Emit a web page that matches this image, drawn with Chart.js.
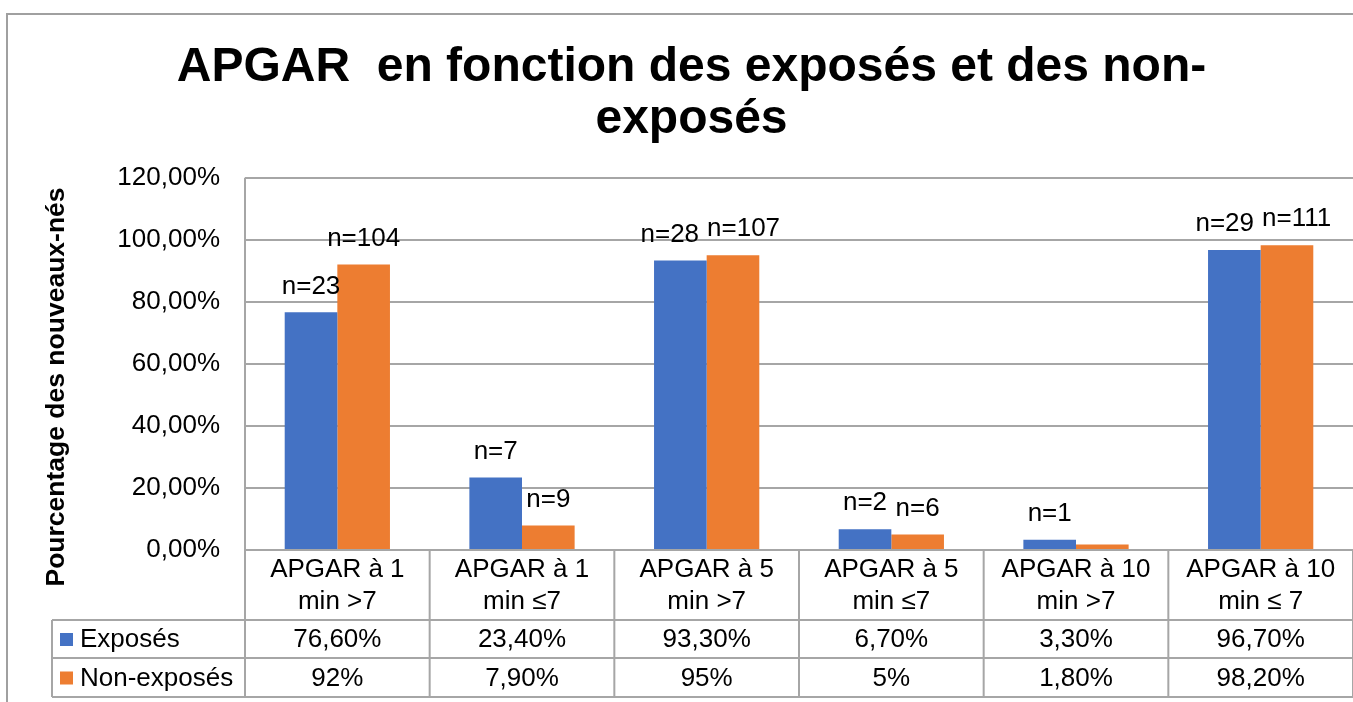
<!DOCTYPE html>
<html>
<head>
<meta charset="utf-8">
<script src="https://cdn.jsdelivr.net/npm/chart.js@4.4.1/dist/chart.umd.min.js"></script>
<style>
  html, body { margin: 0; padding: 0; background: #fff; overflow: hidden; }
  canvas { display: block; }
</style>
</head>
<body>
<canvas id="apgarChart" width="1353" height="702"></canvas>
<script>
// Data
const categories = [
  ['APGAR à 1', 'min >7'], ['APGAR à 1', 'min ≤7'], ['APGAR à 5', 'min >7'],
  ['APGAR à 5', 'min ≤7'], ['APGAR à 10', 'min >7'], ['APGAR à 10', 'min ≤ 7']
];
const seriesNames = ['Exposés', 'Non-exposés'];
const exposes = [76.6, 23.4, 93.3, 6.7, 3.3, 96.7];
const nonExposes = [92, 7.9, 95, 5, 1.8, 98.2];
const nExposes = [23, 7, 28, 2, 1, 29];
const nNonExposes = [104, 9, 107, 6, null, 111];
const titleLines = ['APGAR  en fonction des exposés et des non-', 'exposés'];
const yTitle = 'Pourcentage des nouveaux-nés';

const FONT = '"Liberation Sans", Arial, sans-serif';
const colors = ['#4472C4', '#ED7D31'];
const gridColor = '#a6a6a6';

Chart.defaults.font.family = FONT;

// percent text like excel shows it: 76,60% / 92%
function pct(v) {
  return Number.isInteger(v) ? v + '%' : v.toFixed(2).replace('.', ',') + '%';
}

// draws the frame, y title, n= labels and the data table under the plot
const tablePlugin = {
  id: 'tablePlugin',
  afterDraw(chart) {
    const ctx = chart.ctx;
    const area = chart.chartArea;
    const x = chart.scales.x;
    const catW = (area.right - area.left) / categories.length;
    const rowY = [area.bottom, 620, 658, 697];
    const legendLeft = 52;

    ctx.save();
    ctx.strokeStyle = '#a0a0a0';
    ctx.lineWidth = 2;
    ctx.beginPath();
    ctx.moveTo(7, 702); ctx.lineTo(7, 14); ctx.lineTo(1353, 14);
    ctx.stroke();

    // y axis title
    ctx.save();
    ctx.translate(57, 387);
    ctx.rotate(-Math.PI / 2);
    ctx.font = 'bold 26.5px ' + FONT;
    ctx.fillStyle = '#000';
    ctx.textAlign = 'center';
    ctx.textBaseline = 'middle';
    ctx.fillText(yTitle, 0, 0);
    ctx.restore();

    // n= labels above bars, pushed apart when the pair would collide
    ctx.font = '26px ' + FONT;
    ctx.fillStyle = '#000';
    ctx.textAlign = 'center';
    ctx.textBaseline = 'middle';
    const m0 = chart.getDatasetMeta(0).data, m1 = chart.getDatasetMeta(1).data;
    categories.forEach((c, i) => {
      const labs = [];
      if (nExposes[i] != null) labs.push({ t: 'n=' + nExposes[i], x: m0[i].x, y: m0[i].y - 26 });
      if (nNonExposes[i] != null) labs.push({ t: 'n=' + nNonExposes[i], x: m1[i].x, y: m1[i].y - 26 });
      if (labs.length === 2 && Math.abs(labs[0].y - labs[1].y) < 28) {
        const w0 = ctx.measureText(labs[0].t).width, w1 = ctx.measureText(labs[1].t).width;
        const over = (labs[0].x + w0 / 2 + 8) - (labs[1].x - w1 / 2);
        if (over > 0) { labs[0].x -= over / 2; labs[1].x += over / 2; }
      }
      labs.forEach(l => ctx.fillText(l.t, l.x, l.y));
    });

    // table grid
    ctx.strokeStyle = gridColor;
    ctx.lineWidth = 2;
    ctx.beginPath();
    for (let r = 1; r < rowY.length; r++) {
      ctx.moveTo(legendLeft, rowY[r]); ctx.lineTo(area.right, rowY[r]);
    }
    for (let i = 0; i <= categories.length; i++) {
      const bx = area.left + i * catW;
      ctx.moveTo(bx, i === 0 ? area.top : area.bottom); ctx.lineTo(bx, rowY[3]);
    }
    ctx.moveTo(legendLeft, rowY[1]); ctx.lineTo(legendLeft, rowY[3]);
    ctx.stroke();

    // category labels
    ctx.fillStyle = '#000';
    ctx.font = '26px ' + FONT;
    categories.forEach((lines, i) => {
      const cx = x.getPixelForValue(i);
      ctx.fillText(lines[0], cx, 570);
      ctx.fillText(lines[1], cx, 602);
    });

    // value rows with legend keys
    [exposes, nonExposes].forEach((arr, di) => {
      const cy = (rowY[di + 1] + rowY[di + 2]) / 2 + 1;
      ctx.fillStyle = colors[di];
      ctx.fillRect(60, cy - 7, 13, 13);
      ctx.fillStyle = '#000';
      ctx.textAlign = 'left';
      ctx.fillText(seriesNames[di], 80, cy);
      ctx.textAlign = 'center';
      arr.forEach((v, i) => ctx.fillText(pct(v), x.getPixelForValue(i), cy));
    });
    ctx.restore();
  }
};

new Chart(document.getElementById('apgarChart').getContext('2d'), {
  type: 'bar',
  data: {
    labels: categories,
    datasets: [
      { label: seriesNames[0], data: exposes, backgroundColor: colors[0], categoryPercentage: 0.57, barPercentage: 1 },
      { label: seriesNames[1], data: nonExposes, backgroundColor: colors[1], categoryPercentage: 0.57, barPercentage: 1 }
    ]
  },
  options: {
    responsive: false,
    animation: false,
    layout: { padding: { left: 30, right: 0, top: 0, bottom: 0 } },
    plugins: {
      legend: { display: false },
      tooltip: { enabled: false },
      title: {
        display: true,
        text: titleLines,
        color: '#000',
        font: { size: 48, weight: 'bold', lineHeight: 1.08 },
        padding: { top: 42, bottom: 32 }
      }
    },
    scales: {
      x: {
        ticks: { display: false },
        grid: { display: false },
        border: { display: false },
        afterFit(scale) { scale.height = 152; }
      },
      y: {
        min: 0,
        max: 120,
        ticks: {
          stepSize: 20,
          padding: 25,
          color: '#000',
          font: { size: 26 },
          callback: v => v.toFixed(2).replace('.', ',') + '%'
        },
        grid: { color: gridColor, lineWidth: 2, drawTicks: false },
        border: { display: false },
        afterFit(scale) { scale.width = 215; }
      }
    }
  },
  plugins: [tablePlugin]
});
</script>
</body>
</html>
